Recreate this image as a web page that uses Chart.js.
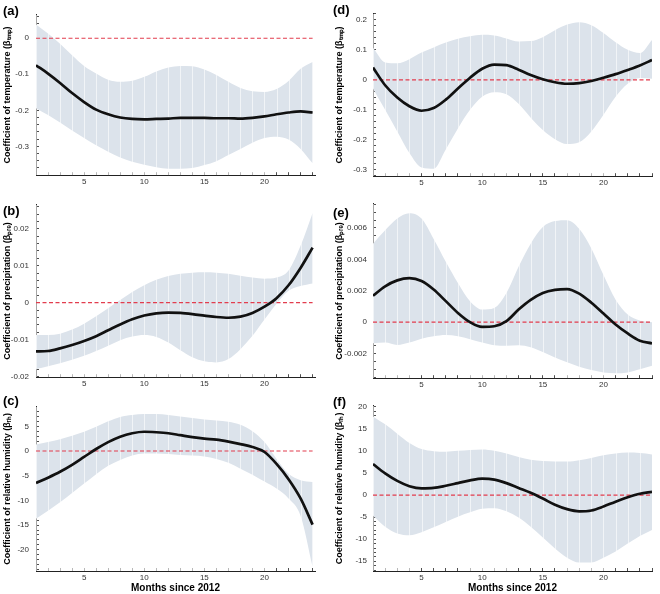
<!DOCTYPE html>
<html>
<head>
<meta charset="utf-8">
<script src="https://cdn.jsdelivr.net/npm/chart.js@4.4.1/dist/chart.umd.min.js"></script>
<style>
  body { margin: 0; background: #fff; }
  #wrap { position: relative; width: 660px; height: 594px; overflow: hidden; }
  #wrap canvas, .lbl { position: absolute; }
  .lbl { font: bold 13px "Liberation Sans", Arial, sans-serif; line-height: 1; color: #000; }
</style>
</head>
<body>
<div id="wrap"></div>
<script>
const months = [1, 2, 3, 4, 5, 6, 7, 8, 9, 10, 11, 12, 13, 14, 15, 16, 17, 18, 19, 20, 21, 22, 23, 24];
const xLabels = [5, 10, 15, 20];

// (a) temperature, left
const tmpMeanA = [-0.075, -0.098, -0.124, -0.152, -0.177, -0.198, -0.211, -0.220, -0.224, -0.225, -0.224, -0.223, -0.221, -0.221, -0.221, -0.222, -0.222, -0.223, -0.221, -0.217, -0.211, -0.206, -0.203, -0.206];
const tmpUpperA = [0.038, 0.013, -0.015, -0.047, -0.077, -0.098, -0.115, -0.121, -0.118, -0.107, -0.092, -0.081, -0.077, -0.078, -0.087, -0.102, -0.121, -0.138, -0.147, -0.149, -0.141, -0.119, -0.085, -0.066];
const tmpLowerA = [-0.194, -0.213, -0.234, -0.256, -0.277, -0.297, -0.315, -0.331, -0.343, -0.351, -0.358, -0.362, -0.362, -0.360, -0.352, -0.341, -0.324, -0.307, -0.290, -0.277, -0.273, -0.281, -0.307, -0.347];
const yTicksA = [0, -0.1, -0.2, -0.3];

// (b) precipitation, left
const preMeanB = [-0.0132, -0.0131, -0.0124, -0.0115, -0.0104, -0.0091, -0.0075, -0.0059, -0.0045, -0.0035, -0.0029, -0.0027, -0.0028, -0.0031, -0.0035, -0.0039, -0.0041, -0.0038, -0.0028, -0.0011, 0.0012, 0.0047, 0.0094, 0.0149];
const preUpperB = [-0.0088, -0.0088, -0.0084, -0.0073, -0.0057, -0.0037, -0.0015, 0.0007, 0.0029, 0.0047, 0.0062, 0.0072, 0.0078, 0.0081, 0.0082, 0.0081, 0.0078, 0.0073, 0.0068, 0.0065, 0.0068, 0.0087, 0.0154, 0.0243];
const preLowerB = [-0.0180, -0.0172, -0.0164, -0.0155, -0.0144, -0.0131, -0.0117, -0.0102, -0.0092, -0.0088, -0.0093, -0.0108, -0.0129, -0.0148, -0.0159, -0.0162, -0.0153, -0.0126, -0.0090, -0.0046, -0.0003, 0.0032, 0.0045, 0.0052];
const yTicksB = [0.02, 0.01, 0, -0.01, -0.02];

// (c) relative humidity, left
const rhMeanC = [-6.5, -5.4, -4.2, -2.8, -1.2, 0.4, 1.8, 2.9, 3.6, 3.9, 3.8, 3.6, 3.2, 2.8, 2.5, 2.3, 1.9, 1.4, 0.8, -0.2, -2.6, -5.7, -9.6, -14.9];
const rhUpperC = [1.3, 1.8, 2.4, 3.1, 3.9, 4.9, 6.0, 6.9, 7.3, 7.5, 7.5, 7.3, 7.0, 6.7, 6.4, 6.2, 5.9, 5.3, 4.0, 1.8, -1.6, -4.6, -5.9, -6.3];
const rhLowerC = [-13.7, -12.1, -10.4, -8.5, -6.6, -4.7, -3.0, -1.8, -0.9, -0.5, -0.5, -0.6, -0.8, -0.9, -1.1, -1.6, -2.4, -3.6, -4.8, -6.2, -7.6, -9.6, -13.1, -23.5];
const yTicksC = [5, 0, -5, -10, -15, -20];

// (d) temperature, right
const tmpMeanD = [0.041, -0.018, -0.059, -0.088, -0.103, -0.094, -0.066, -0.029, 0.007, 0.037, 0.051, 0.049, 0.034, 0.016, 0.002, -0.008, -0.013, -0.011, -0.004, 0.007, 0.019, 0.033, 0.048, 0.066];
const tmpUpperD = [0.107, 0.058, 0.055, 0.069, 0.091, 0.108, 0.124, 0.137, 0.145, 0.150, 0.148, 0.138, 0.128, 0.129, 0.142, 0.165, 0.184, 0.192, 0.182, 0.156, 0.125, 0.100, 0.089, 0.133];
const tmpLowerD = [-0.029, -0.100, -0.172, -0.244, -0.292, -0.296, -0.232, -0.162, -0.100, -0.056, -0.041, -0.048, -0.080, -0.126, -0.167, -0.198, -0.214, -0.208, -0.172, -0.116, -0.056, -0.013, 0.006, 0.004];
const yTicksD = [0.2, 0.1, 0, -0.1, -0.2, -0.3];

// (e) precipitation, right
const preMeanE = [0.00168, 0.00228, 0.00266, 0.0028, 0.00262, 0.00208, 0.00134, 0.00059, 0.0, -0.0003, -0.00026, 0.00006, 0.0008, 0.00142, 0.00186, 0.00206, 0.00211, 0.00182, 0.00124, 0.00055, -0.00015, -0.00072, -0.00118, -0.00135];
const preUpperE = [0.0050, 0.00585, 0.0066, 0.00694, 0.0066, 0.0053, 0.00385, 0.0025, 0.00133, 0.0008, 0.0009, 0.00185, 0.00353, 0.0050, 0.00606, 0.00644, 0.0065, 0.00595, 0.0047, 0.0030, 0.00143, 0.00048, 0.0001, 0.0];
const preLowerE = [-0.00135, -0.0013, -0.00145, -0.0013, -0.00105, -0.0009, -0.00082, -0.0009, -0.00109, -0.0013, -0.00147, -0.0015, -0.00147, -0.0016, -0.0019, -0.00225, -0.00256, -0.00284, -0.00305, -0.0032, -0.00325, -0.0032, -0.003, -0.00278];
const yTicksE = [0.006, 0.004, 0.002, 0, -0.002];

// (f) relative humidity, right
const rhMeanF = [7.0, 4.9, 3.2, 2.0, 1.5, 1.6, 2.1, 2.7, 3.3, 3.7, 3.5, 2.7, 1.6, 0.5, -0.8, -2.2, -3.2, -3.7, -3.5, -2.6, -1.5, -0.5, 0.3, 0.7];
const rhUpperF = [17.8, 16.0, 13.9, 11.8, 10.4, 9.9, 9.8, 10.0, 10.2, 10.3, 10.0, 9.4, 8.6, 8.0, 7.7, 7.6, 7.6, 7.9, 8.4, 9.0, 9.4, 9.6, 9.5, 9.2];
const rhLowerF = [-4.7, -7.2, -8.7, -9.1, -8.4, -7.3, -6.1, -4.9, -3.9, -3.1, -3.0, -3.7, -5.1, -7.2, -9.6, -12.1, -14.2, -15.3, -15.3, -14.2, -12.8, -11.0, -9.3, -7.9];
const yTicksF = [20, 15, 10, 5, 0, -5, -10, -15];

const TITLE_TMP = "Coefficient of temperature (βₜₘₚ)";
const TITLE_PRE = "Coefficient of precipitation (βₚᵣₑ)";
const TITLE_RH = "Coefficient of relative humidity (βᵣₕ)";

const panels = [
  { tag: "(a)", title: TITLE_TMP, mean: tmpMeanA, upper: tmpUpperA, lower: tmpLowerA, ticks: yTicksA, minor: 0.02, min: -0.38, max: 0.065 },
  { tag: "(b)", title: TITLE_PRE, mean: preMeanB, upper: preUpperB, lower: preLowerB, ticks: yTicksB, minor: 0.002, min: -0.0202, max: 0.0265 },
  { tag: "(c)", title: TITLE_RH, mean: rhMeanC, upper: rhUpperC, lower: rhLowerC, ticks: yTicksC, minor: 1, min: -24.3, max: 8.95, xTitle: true },
  { tag: "(d)", title: TITLE_TMP, mean: tmpMeanD, upper: tmpUpperD, lower: tmpLowerD, ticks: yTicksD, minor: 0.02, min: -0.321, max: 0.22 },
  { tag: "(e)", title: TITLE_PRE, mean: preMeanE, upper: preUpperE, lower: preLowerE, ticks: yTicksE, minor: 0.0005, min: -0.00357, max: 0.00754 },
  { tag: "(f)", title: TITLE_RH, mean: rhMeanF, upper: rhUpperF, lower: rhLowerF, ticks: yTicksF, minor: 1, min: -17.2, max: 20.2, xTitle: true },
];

// canvas boxes and axis sizes (pixels)
const boxes = [
  { x: 0, y: 0, w: 330, h: 190, top: 5, right: 15, yw: 36, xh: 12, xMax: 24.2, tp: 2, lp: 10, tagX: 3, tagY: 4 },
  { x: 0, y: 190, w: 330, h: 202, top: 13, right: 15, yw: 36, xh: 14, xMax: 24.2, tp: 2, lp: 10, tagX: 3, tagY: 204 },
  { x: 0, y: 392, w: 330, h: 202, top: 8, right: 15, yw: 36, xh: 23, xMax: 24.2, tp: 2, lp: 10, tagX: 3, tagY: 394 },
  { x: 330, y: 0, w: 330, h: 190, top: 3, right: 8, yw: 43, xh: 12, xMax: 24, tp: 4, lp: 9, tagX: 333, tagY: 3 },
  { x: 330, y: 190, w: 330, h: 202, top: 13, right: 8, yw: 43, xh: 13, xMax: 24, tp: 4, lp: 9, tagX: 333, tagY: 206 },
  { x: 330, y: 392, w: 330, h: 202, top: 3, right: 8, yw: 43, xh: 23, xMax: 24, tp: 4, lp: 9, tagX: 333, tagY: 395 },
];

const FONT = '"Liberation Sans", Arial, sans-serif';
const BAND = "#dce3eb";
const AXIS = "#222";

// pale vertical separators over the confidence band, one per month
const stripes = {
  id: "stripes",
  afterDatasetDraw(chart, args) {
    if (args.index !== 2) return;
    const { ctx, chartArea, scales } = chart;
    ctx.save();
    ctx.beginPath();
    ctx.rect(chartArea.left, chartArea.top, chartArea.width, chartArea.height);
    ctx.clip();
    ctx.strokeStyle = "rgba(255,255,255,0.6)";
    ctx.lineWidth = 1;
    months.forEach((m) => {
      const x = Math.round(scales.x.getPixelForValue(m)) + 0.5;
      ctx.beginPath();
      ctx.moveTo(x, chartArea.top);
      ctx.lineTo(x, chartArea.bottom);
      ctx.stroke();
    });
    ctx.restore();
  },
};

const wrap = document.getElementById("wrap");

panels.forEach((p, i) => {
  const b = boxes[i];
  const canvas = document.createElement("canvas");
  canvas.width = b.w;
  canvas.height = b.h;
  canvas.style.left = b.x + "px";
  canvas.style.top = b.y + "px";
  wrap.appendChild(canvas);

  const pts = (arr) => arr.map((v, k) => ({ x: months[k], y: v }));

  new Chart(canvas, {
    type: "line",
    data: {
      datasets: [
        { data: pts(p.mean), borderColor: "#111", borderWidth: 2.7, pointRadius: 0, cubicInterpolationMode: "monotone", order: 0 },
        { data: [{ x: 1, y: 0 }, { x: 24, y: 0 }], borderColor: "#e23d4e", borderWidth: 1.2, borderDash: [4, 2.5], pointRadius: 0, order: 1 },
        { data: pts(p.upper), borderWidth: 0, borderColor: BAND, backgroundColor: BAND, pointRadius: 0, cubicInterpolationMode: "monotone", fill: "+1", order: 2 },
        { data: pts(p.lower), borderWidth: 0, borderColor: BAND, pointRadius: 0, cubicInterpolationMode: "monotone", fill: false, order: 3 },
      ],
    },
    options: {
      responsive: false,
      animation: false,
      events: [],
      layout: { padding: { top: b.top, right: b.right, left: 0, bottom: 0 } },
      plugins: { legend: { display: false }, tooltip: { enabled: false } },
      scales: {
        x: {
          type: "linear",
          min: 1,
          max: b.xMax,
          z: 1,
          afterBuildTicks: (s) => { s.ticks = months.map((v) => ({ value: v })); },
          afterFit: (s) => { s.height = b.xh; },
          border: { display: true, color: AXIS, width: 1 },
          grid: { drawOnChartArea: false, drawTicks: true, tickLength: -3, tickColor: AXIS, tickWidth: 0.8 },
          ticks: {
            autoSkip: false,
            maxRotation: 0,
            padding: 5,
            color: "#333",
            font: { family: FONT, size: 8 },
            callback: (v) => (xLabels.includes(v) ? String(v) : ""),
          },
          title: {
            display: !!p.xTitle,
            text: "Months since 2012",
            color: "#000",
            padding: { top: 0, bottom: 0 },
            font: { family: FONT, size: 10, weight: "bold" },
          },
        },
        y: {
          type: "linear",
          min: p.min,
          max: p.max,
          z: 1,
          afterBuildTicks: (s) => {
            const lo = Math.ceil(p.min / p.minor - 1e-9);
            const hi = Math.floor(p.max / p.minor + 1e-9);
            const list = [];
            for (let k = lo; k <= hi; k++) list.push({ value: k * p.minor });
            s.ticks = list;
          },
          afterFit: (s) => { s.width = b.yw; },
          border: { display: true, color: AXIS, width: 1 },
          grid: { drawOnChartArea: false, drawTicks: true, tickLength: -3, tickColor: AXIS, tickWidth: 0.8 },
          ticks: {
            autoSkip: false,
            padding: b.lp,
            color: "#333",
            font: { family: FONT, size: 8 },
            callback: (v) => {
              const m = p.ticks.find((t) => Math.abs(t - v) < p.minor / 10);
              return m === undefined ? "" : String(m);
            },
          },
          title: {
            display: true,
            text: p.title,
            color: "#000",
            padding: { top: b.tp, bottom: b.tp },
            font: { family: FONT, size: 9, weight: "bold" },
          },
        },
      },
    },
    plugins: [stripes],
  });

  const tag = document.createElement("div");
  tag.className = "lbl";
  tag.textContent = p.tag;
  tag.style.left = b.tagX + "px";
  tag.style.top = b.tagY + "px";
  wrap.appendChild(tag);
});
</script>
</body>
</html>
